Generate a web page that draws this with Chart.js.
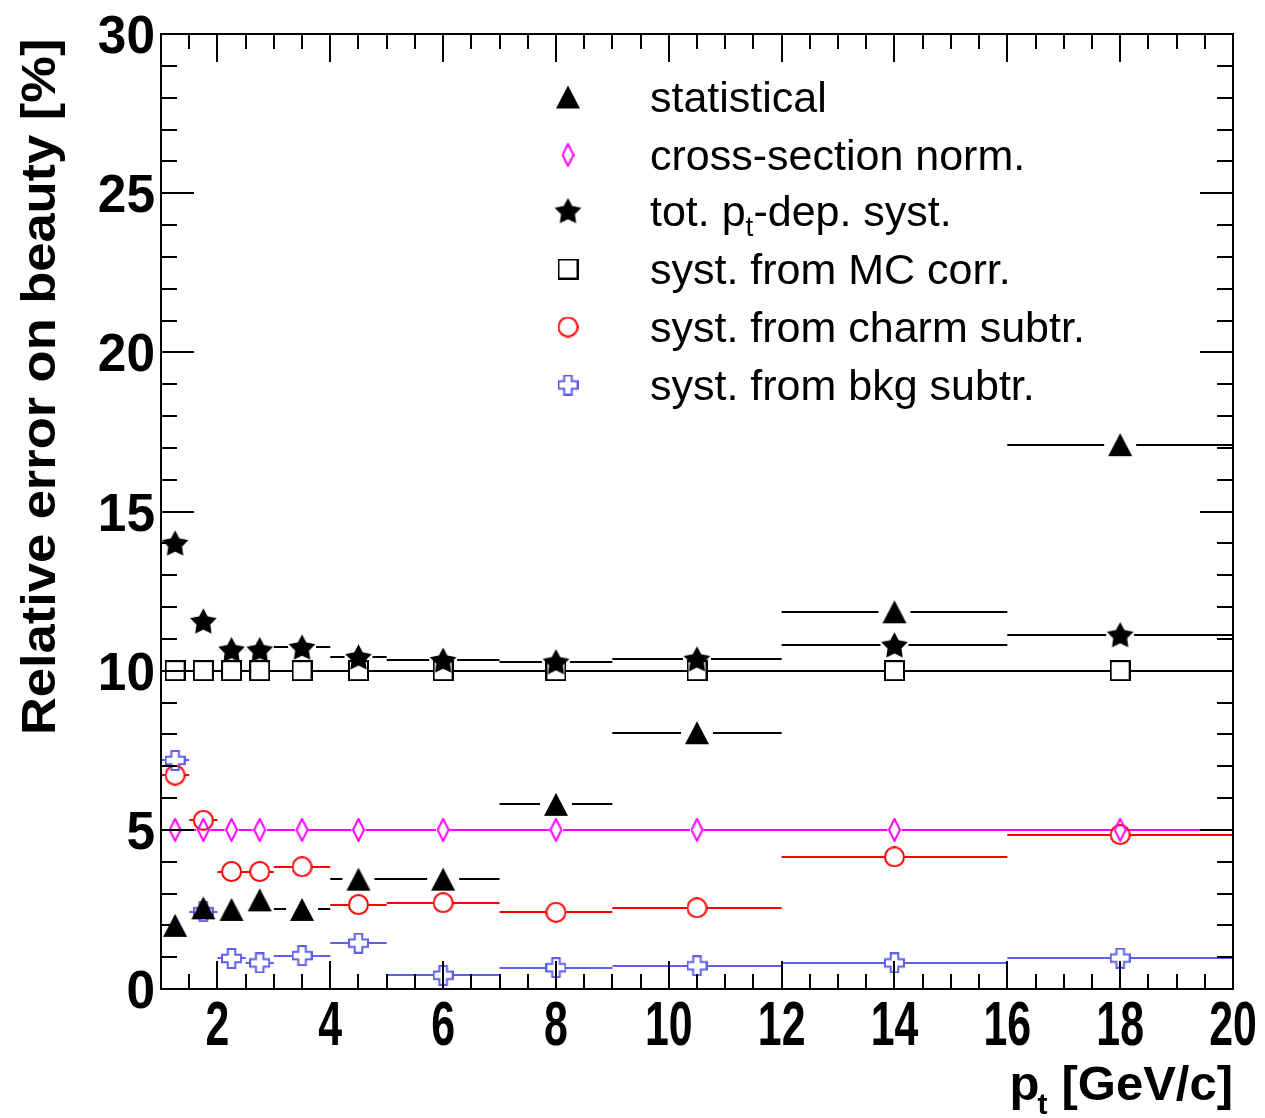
<!DOCTYPE html>
<html>
<head>
<meta charset="utf-8">
<script src="https://cdn.jsdelivr.net/npm/chart.js@4.4.0/dist/chart.umd.min.js"></script>
<style>
  html, body { margin: 0; padding: 0; background: #fff; }
</style>
</head>
<body>
<canvas id="errChart" width="1265" height="1118"></canvas>
<script>
// pt binning [GeV/c]
const binEdges   = [1, 1.5, 2, 2.5, 3, 4, 5, 7, 9, 12, 16, 20];
const binCenters = [1.25, 1.75, 2.25, 2.75, 3.5, 4.5, 6, 8, 10.5, 14, 18];

// relative errors on the beauty cross section [%]
const statistical   = [2.0, 2.55, 2.5, 2.8, 2.5, 3.45, 3.45, 5.8, 8.05, 11.85, 17.1];
const crossSecNorm  = [5, 5, 5, 5, 5, 5, 5, 5, 5, 5, 5];
const totPtDepSyst  = [14.0, 11.55, 10.65, 10.65, 10.73, 10.42, 10.32, 10.27, 10.36, 10.8, 11.12];
const mcCorr        = [10, 10, 10, 10, 10, 10, 10, 10, 10, 10, 10];
const charmSubtr    = [6.72, 5.3, 3.69, 3.69, 3.84, 2.65, 2.71, 2.41, 2.55, 4.15, 4.85];
const bkgSubtr      = [7.18, 2.43, 0.96, 0.82, 1.05, 1.44, 0.43, 0.67, 0.73, 0.82, 0.97];

const xTickLabels = [2, 4, 6, 8, 10, 12, 14, 16, 18, 20];
const yTickLabels = [0, 5, 10, 15, 20, 25, 30];

const FONT = "'Liberation Sans', Arial, Helvetica, sans-serif";
const BLUE = 'rgb(95, 95, 235)';

// ROOT-like marker sprites
function marker(kind, color, w, h) {
  const c = document.createElement('canvas');
  c.width = w; c.height = h;
  const g = c.getContext('2d');
  g.strokeStyle = color; g.fillStyle = color; g.lineWidth = 2;
  const cx = w / 2, cy = h / 2;
  g.beginPath();
  if (kind === 'triangle') {
    g.moveTo(cx, 1); g.lineTo(w - 1, h - 1); g.lineTo(1, h - 1); g.closePath(); g.fill();
  } else if (kind === 'star') {
    const ro = w / 2 - 0.5, ri = ro * 0.52;
    for (let k = 0; k < 10; k++) {
      const r = k % 2 ? ri : ro, a = -Math.PI / 2 + k * Math.PI / 5;
      const px = cx + r * Math.cos(a), py = cy + 1 + r * Math.sin(a);
      k ? g.lineTo(px, py) : g.moveTo(px, py);
    }
    g.closePath(); g.fill();
  } else if (kind === 'diamond') {
    g.moveTo(cx, 1); g.lineTo(w - 1, cy); g.lineTo(cx, h - 1); g.lineTo(1, cy); g.closePath(); g.stroke();
  } else if (kind === 'square') {
    g.rect(1, 1, w - 2, h - 2); g.stroke();
  } else if (kind === 'circle') {
    g.arc(cx, cy, w / 2 - 1, 0, Math.PI * 2); g.stroke();
  } else if (kind === 'cross') {
    const a = w * 0.18, e = 1;
    g.moveTo(cx - a, e); g.lineTo(cx + a, e); g.lineTo(cx + a, cy - a); g.lineTo(w - e, cy - a);
    g.lineTo(w - e, cy + a); g.lineTo(cx + a, cy + a); g.lineTo(cx + a, h - e); g.lineTo(cx - a, h - e);
    g.lineTo(cx - a, cy + a); g.lineTo(e, cy + a); g.lineTo(e, cy - a); g.lineTo(cx - a, cy - a);
    g.closePath(); g.stroke();
  }
  return c;
}

function series(label, values, kind, color, w, h, gap, legendY) {
  return {
    label,
    data: binCenters.map((x, i) => ({ x, y: values[i] })),
    pointStyle: marker(kind, color, w, h),
    pointRadius: 10,
    showLine: false,
    barColor: color,
    gap,
    legendY
  };
}

const datasets = [
  series('statistical', statistical, 'triangle', '#000', 26, 25, 16, 97),
  series('cross-section norm.', crossSecNorm, 'diamond', '#ff00ff', 13, 24, 7, 155),
  series('tot. p_t-dep. syst.', totPtDepSyst, 'star', '#000', 29, 29, 14, 211),
  series('syst. from MC corr.', mcCorr, 'square', '#000', 21, 21, 10, 269),
  series('syst. from charm subtr.', charmSubtr, 'circle', '#ff0000', 21, 21, 10, 327),
  series('syst. from bkg subtr.', bkgSubtr, 'cross', BLUE, 21, 21, 10, 385)
];

// horizontal bin-width bars, broken around each marker
const errorBars = {
  id: 'errorBars',
  beforeDatasetsDraw(chart) {
    const { ctx, scales: { x, y } } = chart;
    chart.data.datasets.forEach(ds => {
      ctx.save();
      ctx.strokeStyle = ds.barColor;
      ctx.lineWidth = 2.2;
      ctx.beginPath();
      ds.data.forEach((p, i) => {
        const py = Math.round(y.getPixelForValue(p.y));
        const xl = x.getPixelForValue(binEdges[i]);
        const xr = x.getPixelForValue(binEdges[i + 1]);
        const xc = x.getPixelForValue(p.x);
        if (xc - ds.gap > xl) { ctx.moveTo(xl, py); ctx.lineTo(xc - ds.gap, py); }
        if (xr > xc + ds.gap) { ctx.moveTo(xc + ds.gap, py); ctx.lineTo(xr, py); }
      });
      ctx.stroke();
      ctx.restore();
    });
  }
};

// frame, inward ticks on all sides, labels, titles, legend
const rootFrame = {
  id: 'rootFrame',
  afterDraw(chart) {
    const { ctx, chartArea: a, scales: { x, y } } = chart;
    ctx.save();
    ctx.strokeStyle = '#000';
    ctx.lineWidth = 2;
    ctx.strokeRect(a.left, a.top, a.right - a.left, a.bottom - a.top);

    ctx.beginPath();
    for (let v = 1.5; v < 20; v += 0.5) {
      const px = Math.round(x.getPixelForValue(v));
      const len = v % 2 === 0 ? 28 : 15;
      ctx.moveTo(px, a.bottom); ctx.lineTo(px, a.bottom - len);
      ctx.moveTo(px, a.top); ctx.lineTo(px, a.top + len);
    }
    for (let v = 1; v < 30; v += 1) {
      const py = Math.round(y.getPixelForValue(v));
      const len = v % 5 === 0 ? 33 : 16;
      ctx.moveTo(a.left, py); ctx.lineTo(a.left + len, py);
      ctx.moveTo(a.right, py); ctx.lineTo(a.right - len, py);
    }
    ctx.stroke();

    ctx.fillStyle = '#000';
    // x tick labels (condensed bold)
    ctx.font = 'bold 63px ' + FONT;
    ctx.textAlign = 'center';
    ctx.textBaseline = 'alphabetic';
    xTickLabels.forEach(v => {
      ctx.save();
      ctx.translate(x.getPixelForValue(v), 1045);
      ctx.scale(0.68, 1);
      ctx.fillText(String(v), 0, 0);
      ctx.restore();
    });
    // y tick labels
    ctx.font = 'bold 53px ' + FONT;
    ctx.textAlign = 'right';
    yTickLabels.forEach(v => {
      ctx.save();
      ctx.translate(155, y.getPixelForValue(v) + 19);
      ctx.scale(0.97, 1);
      ctx.fillText(String(v), 0, 0);
      ctx.restore();
    });

    // y axis title
    ctx.save();
    ctx.font = 'bold 49px ' + FONT;
    ctx.textAlign = 'left';
    ctx.translate(55, 735);
    ctx.rotate(-Math.PI / 2);
    ctx.scale(1.07, 1);
    ctx.fillText('Relative error on beauty [%]', 0, 0);
    ctx.restore();

    // x axis title: p_t [GeV/c]
    ctx.font = 'bold 49px ' + FONT;
    ctx.textAlign = 'right';
    ctx.fillText('[GeV/c]', a.right, 1100);
    const wBr = ctx.measureText('[GeV/c]').width;
    ctx.font = 'bold 30px ' + FONT;
    const wT = ctx.measureText('t').width;
    const gapT = 14;
    ctx.fillText('t', a.right - wBr - gapT, 1114);
    ctx.font = 'bold 49px ' + FONT;
    ctx.fillText('p', a.right - wBr - gapT - wT + 2, 1100);

    // legend
    chart.data.datasets.forEach(ds => {
      const img = ds.pointStyle;
      ctx.drawImage(img, 568 - img.width / 2, ds.legendY - img.height / 2);
      ctx.textAlign = 'left';
      ctx.font = '43px ' + FONT;
      const base = ds.legendY + 15;
      if (ds.label.includes('p_t')) {
        const [pre, post] = ds.label.split('_t');
        ctx.fillText(pre, 650, base);
        let xx = 650 + ctx.measureText(pre).width;
        ctx.font = '28px ' + FONT;
        ctx.fillText('t', xx, base + 10);
        xx += ctx.measureText('t').width;
        ctx.font = '43px ' + FONT;
        ctx.fillText(post, xx, base);
      } else {
        ctx.fillText(ds.label, 650, base);
      }
    });
    ctx.restore();
  }
};

new Chart(document.getElementById('errChart'), {
  type: 'scatter',
  data: { datasets },
  options: {
    responsive: false,
    animation: false,
    layout: { padding: { left: 0, right: 32, top: 34, bottom: 0 } },
    plugins: { legend: { display: false }, tooltip: { enabled: false } },
    scales: {
      x: {
        type: 'linear', min: 1, max: 20,
        grid: { display: false }, border: { display: false },
        ticks: { display: false },
        afterFit: s => { s.height = 129; }
      },
      y: {
        type: 'linear', min: 0, max: 30,
        grid: { display: false }, border: { display: false },
        ticks: { display: false },
        afterFit: s => { s.width = 161; }
      }
    }
  },
  plugins: [errorBars, rootFrame]
});
</script>
</body>
</html>
